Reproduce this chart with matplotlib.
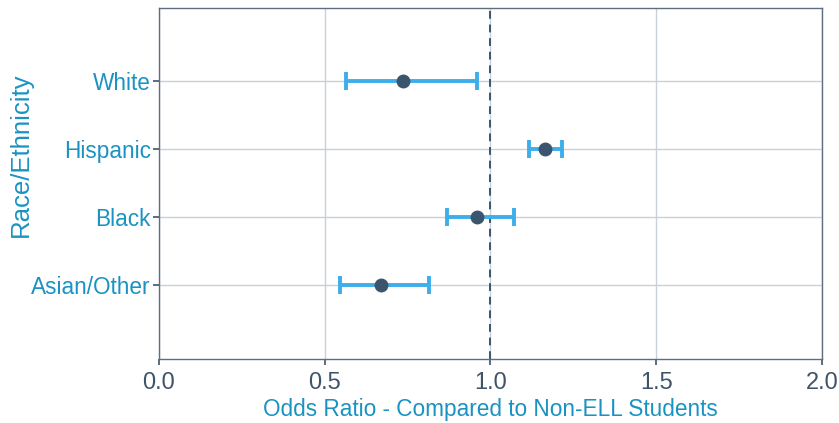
import numpy as np
import matplotlib
matplotlib.use("Agg")
import matplotlib.pyplot as plt

plt.rcParams['font.family'] = ['Liberation Sans', 'DejaVu Sans']

groups = ["Asian/Other", "Black", "Hispanic", "White"]
odds = [0.67, 0.96, 1.165, 0.735]
ci_low = [0.545, 0.87, 1.115, 0.565]
ci_high = [0.815, 1.07, 1.215, 0.96]

label_col = "#1a93c2"
tick_col = "#3f5469"
bar_col = "#3daeea"
dot_col = "#3b556e"
grid_col = "#c9d0d9"

fig = plt.figure(figsize=(8.39, 4.23), dpi=100)
ax = fig.add_axes([0.1895, 0.1513, 0.7902, 0.8297])

ypos = np.arange(len(groups))
odds = np.array(odds)
err = [odds - np.array(ci_low), np.array(ci_high) - odds]

ax.axvline(1.0, color=dot_col, lw=1.4, ls=(0, (4, 3)), zorder=2)
ax.errorbar(odds, ypos, xerr=err, fmt='none', ecolor=bar_col, elinewidth=2.8,
            capsize=6.8, capthick=2.8, zorder=3)
ax.plot(odds, ypos, 'o', color=dot_col, markersize=9, zorder=4)

ax.set_xlim(0, 2)
ax.set_ylim(-1.09, 4.07)
ax.set_xticks([0, 0.5, 1.0, 1.5, 2.0])
ax.set_xticklabels(["0.0", "0.5", "1.0", "1.5", "2.0"])
ax.set_yticks(ypos)
ax.set_yticklabels(groups)

ax.grid(True, color=grid_col, lw=1.0, zorder=0)
ax.set_axisbelow(True)
for s in ax.spines.values():
    s.set_color("#5d6e80")
    s.set_linewidth(1.0)

ax.tick_params(axis='x', colors=tick_col, labelsize=17, length=4, width=1.2, pad=5)
ax.tick_params(axis='y', colors=tick_col, labelcolor=label_col, labelsize=16.3,
               length=4, width=1.2, pad=2)

ax.set_xlabel("Odds Ratio - Compared to Non-ELL Students", color=label_col,
              fontsize=16.3, labelpad=3)
ax.set_ylabel("Race/Ethnicity", color=label_col, fontsize=18.5)
ax.yaxis.set_label_coords(-0.19, 0.581)

fig.savefig("out.png", dpi=100)
